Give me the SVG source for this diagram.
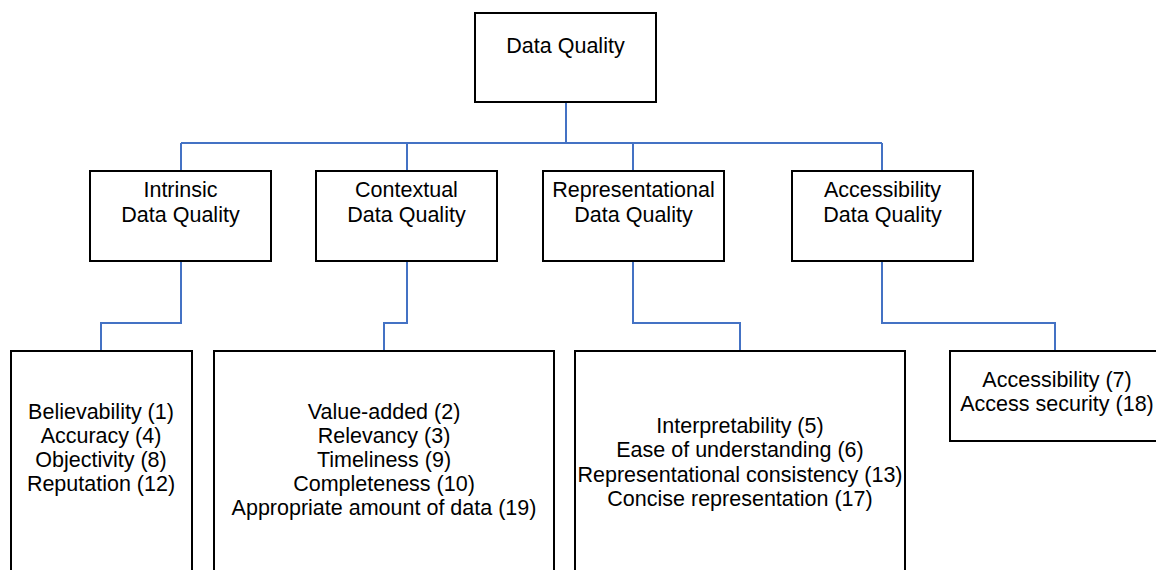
<svg xmlns="http://www.w3.org/2000/svg" width="1156" height="570" viewBox="0 0 1156 570">
  <style>
    .box { fill: #ffffff; stroke: #000000; stroke-width: 2; }
    .link { fill: none; stroke: #4472C4; stroke-width: 2; }
    text { font-family: "Liberation Sans", Arial, sans-serif; font-size: 21.5px; fill: #000000; text-anchor: middle; }
  </style>
  <rect width="1156" height="570" fill="#ffffff"/>

  <!-- connectors -->
  <g id="connectors">
    <path class="link" d="M566 102 V143"/>
    <path class="link" d="M181 143 H882"/>
    <path class="link" d="M181 143 V171"/>
    <path class="link" d="M407 143 V171"/>
    <path class="link" d="M633 143 V171"/>
    <path class="link" d="M882 143 V171"/>
    <path class="link" d="M181 261 V323 H101 V351"/>
    <path class="link" d="M407 261 V323 H384 V351"/>
    <path class="link" d="M633 261 V323 H740 V351"/>
    <path class="link" d="M882 261 V323 H1055 V351"/>
  </g>

  <!-- root -->
  <g id="data-quality">
    <rect class="box" x="475" y="13" width="181" height="89"/>
    <text x="565.5" y="53">Data Quality</text>
  </g>

  <!-- categories -->
  <g id="intrinsic">
    <rect class="box" x="90" y="171" width="181" height="90"/>
    <text x="180.5" y="197">Intrinsic</text>
    <text x="180.5" y="222">Data Quality</text>
  </g>
  <g id="contextual">
    <rect class="box" x="316" y="171" width="181" height="90"/>
    <text x="406.5" y="197">Contextual</text>
    <text x="406.5" y="222">Data Quality</text>
  </g>
  <g id="representational">
    <rect class="box" x="543" y="171" width="181" height="90"/>
    <text x="633.5" y="197">Representational</text>
    <text x="633.5" y="222">Data Quality</text>
  </g>
  <g id="accessibility">
    <rect class="box" x="792" y="171" width="181" height="90"/>
    <text x="882.5" y="197">Accessibility</text>
    <text x="882.5" y="222">Data Quality</text>
  </g>

  <!-- dimensions -->
  <g id="intrinsic-dims">
    <rect class="box" x="11" y="351" width="181" height="240"/>
    <text x="101" y="419">Believability (1)</text>
    <text x="101" y="443">Accuracy (4)</text>
    <text x="101" y="467">Objectivity (8)</text>
    <text x="101" y="491">Reputation (12)</text>
  </g>
  <g id="contextual-dims">
    <rect class="box" x="214" y="351" width="340" height="240"/>
    <text x="384" y="419">Value-added (2)</text>
    <text x="384" y="443">Relevancy (3)</text>
    <text x="384" y="467">Timeliness (9)</text>
    <text x="384" y="491">Completeness (10)</text>
    <text x="384" y="515">Appropriate amount of data (19)</text>
  </g>
  <g id="representational-dims">
    <rect class="box" x="575" y="351" width="330" height="240"/>
    <text x="740" y="433">Interpretability (5)</text>
    <text x="740" y="457">Ease of understanding (6)</text>
    <text x="740" y="482">Representational consistency (13)</text>
    <text x="740" y="506">Concise representation (17)</text>
  </g>
  <g id="accessibility-dims">
    <rect class="box" x="950" y="351" width="212" height="90"/>
    <text x="1057" y="387">Accessibility (7)</text>
    <text x="1057" y="411">Access security (18)</text>
  </g>
</svg>
